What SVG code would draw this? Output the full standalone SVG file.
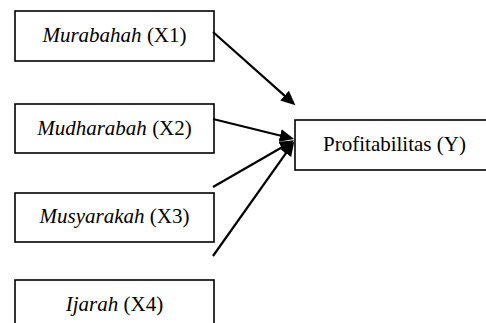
<svg xmlns="http://www.w3.org/2000/svg" width="486" height="323" viewBox="0 0 486 323">
  <style>
    .box { fill: #ffffff; stroke: #000000; stroke-width: 1.6; }
    .lbl { font-size: 21px; fill: #000000; text-anchor: middle; }
    .it { font-style: italic; }
    .edge { stroke: #000000; stroke-width: 2.2; fill: none; marker-end: url(#head); }
  </style>
  <defs>
    <marker id="head" markerUnits="userSpaceOnUse" markerWidth="16" markerHeight="14" refX="3" refY="6.5" orient="auto">
      <path d="M0,0 L14.5,6.5 L0,13 z" fill="#000000"/>
    </marker>
  </defs>

  <rect width="486" height="323" fill="#ffffff"/>

  <g id="x1">
    <rect class="box" x="15" y="11" width="199" height="50"/>
    <text class="lbl" font-family="Liberation Serif, Times, serif" x="114.5" y="41.5"><tspan class="it">Murabahah</tspan> (X1)</text>
  </g>

  <g id="x2">
    <rect class="box" x="15" y="104" width="199" height="49"/>
    <text class="lbl" font-family="Liberation Serif, Times, serif" x="114.5" y="134.5"><tspan class="it">Mudharabah</tspan> (X2)</text>
  </g>

  <g id="x3">
    <rect class="box" x="15" y="193" width="199" height="49"/>
    <text class="lbl" font-family="Liberation Serif, Times, serif" x="114.5" y="222.5"><tspan class="it">Musyarakah</tspan> (X3)</text>
  </g>

  <g id="x4">
    <rect class="box" x="15" y="280" width="199" height="50"/>
    <text class="lbl" font-family="Liberation Serif, Times, serif" x="114.5" y="310.5"><tspan class="it">Ijarah</tspan> (X4)</text>
  </g>

  <g id="y">
    <rect class="box" x="295" y="120" width="200" height="50"/>
    <text class="lbl" font-family="Liberation Serif, Times, serif" x="394.5" y="151">Profitabilitas (Y)</text>
  </g>

  <g id="connectors">
    <line class="edge" x1="213" y1="32" x2="286.8" y2="97.6"/>
    <line class="edge" x1="213" y1="119" x2="283" y2="136.2"/>
    <line class="edge" x1="213" y1="187" x2="284.2" y2="146"/>
    <line class="edge" x1="213" y1="256" x2="287.6" y2="150.8"/>
  </g>
</svg>
